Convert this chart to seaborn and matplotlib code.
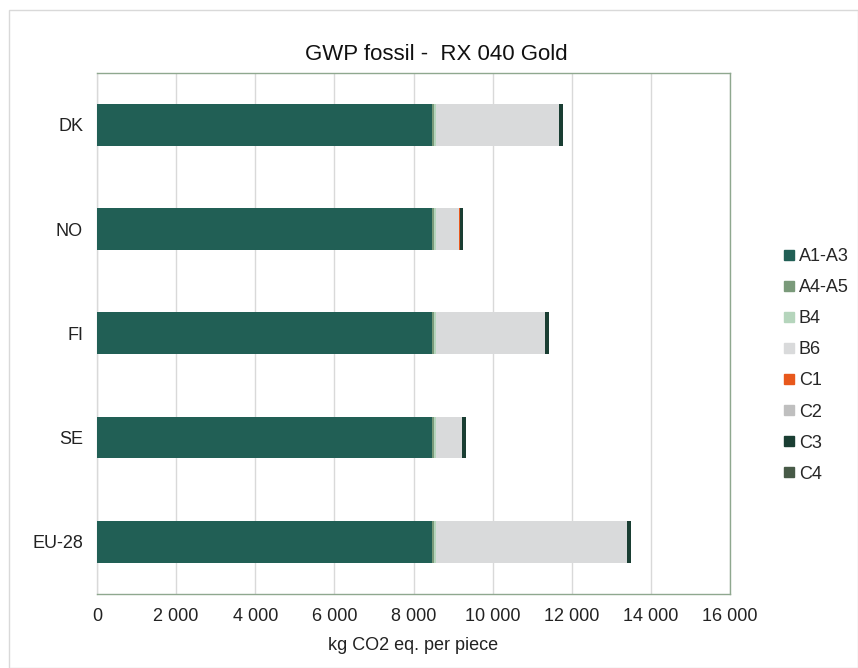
import numpy as np
import pandas as pd
import seaborn as sns
import matplotlib.pyplot as plt
from matplotlib.lines import Line2D

# --- datos ---
countries = ["DK", "NO", "FI", "SE", "EU-28"]
stages = ["A1-A3", "A4-A5", "B4", "B6", "C1", "C2", "C3", "C4"]
a1_a3 = [8470, 8470, 8470, 8470, 8470]
a4_a5 = [55, 55, 55, 55, 55]
b4 = [45, 45, 45, 45, 45]
b6 = [3110, 590, 2755, 655, 4815]
c1 = [2, 2, 2, 2, 2]
c2 = [5, 5, 5, 5, 5]
c3 = [90, 90, 90, 90, 90]
c4 = [5, 5, 5, 5, 5]

colors = ["#215f55", "#7a9a7a", "#b5d5bc", "#d9dadb",
          "#e8581c", "#bfbfbf", "#1a3e33", "#475a47"]

df = pd.DataFrame({"country": countries, "A1-A3": a1_a3, "A4-A5": a4_a5,
                   "B4": b4, "B6": b6, "C1": c1, "C2": c2, "C3": c3, "C4": c4})
cum = df[stages].cumsum(axis=1)

sns.set_theme(style="white")
plt.rcParams["font.family"] = ["Liberation Sans", "DejaVu Sans"]

fig = plt.figure(figsize=(8.58, 6.68), dpi=100)
ax = fig.add_axes([0.113, 0.111, 0.738, 0.780])

# barras apiladas: dibujar desde el total hacia atras
for st, col in reversed(list(zip(stages, colors))):
    sns.barplot(x=cum[st], y=df["country"], orient="h", color=col,
                width=0.4, saturation=1, linewidth=0, ax=ax, zorder=3)

ax.set_xlim(0, 16000)
ax.set_xticks(np.arange(0, 16001, 2000))
ax.set_xticklabels([f"{v:,}".replace(",", " ") for v in range(0, 16001, 2000)])
ax.grid(axis="x", color="#d9d9d9", linewidth=1, zorder=0)
ax.set_axisbelow(True)
ax.tick_params(axis="x", length=0, labelsize=13, pad=10, colors="#222222")
ax.tick_params(axis="y", length=0, labelsize=13, pad=10, colors="#222222")
ax.set_xlabel("kg CO2 eq. per piece", fontsize=13, labelpad=9, color="#222222")
ax.set_ylabel("")
for sp in ax.spines.values():
    sp.set_color("#8fa88f")
    sp.set_linewidth(1)
ax.spines["left"].set_color("#d9d9d9")
ax.set_title("GWP fossil -  RX 040 Gold", fontsize=16, pad=9, color="#111111", x=0.536)

handles = [Line2D([0], [0], marker="s", linestyle="", markersize=7,
                  markerfacecolor=c, markeredgecolor=c) for c in colors]
fig.legend(handles, stages, loc="center left", bbox_to_anchor=(0.893, 0.453),
           frameon=False, fontsize=13, handletextpad=0.2, labelspacing=0.78,
           handlelength=0.7)

# marco exterior
fig.patches.append(plt.Rectangle((0.011, 0.0), 0.989, 0.985, transform=fig.transFigure,
                                 fill=False, edgecolor="#d9d9d9", linewidth=1))

fig.savefig("out.png", dpi=100)
